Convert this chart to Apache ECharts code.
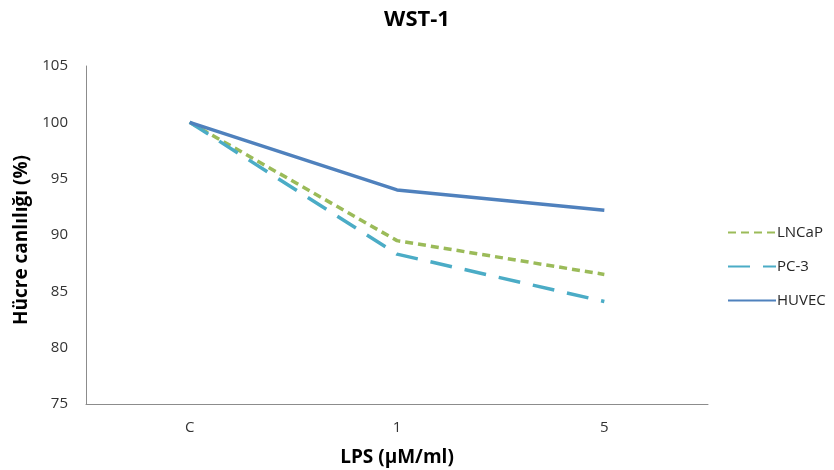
<!DOCTYPE html>
<html>
<head>
<meta charset="utf-8">
<script src="https://cdn.jsdelivr.net/npm/echarts@6/dist/echarts.min.js"></script>
<style>html,body{margin:0;padding:0;background:#fff}#c{width:834px;height:470px}</style>
</head>
<body>
<div id="c"></div>
<script>
const categories = ['C', '1', '5'];
const lncap = [100, 89.5, 86.5];
const pc3 = [100, 88.3, 84.1];
const huvec = [100, 94.0, 92.2];
const yTicks = [75, 80, 85, 90, 95, 100, 105];

const font = 'Open Sans, Liberation Sans, sans-serif';
const chart = echarts.init(document.getElementById('c'), null, {renderer: 'canvas'});
chart.setOption({
  animation: false,
  backgroundColor: '#fff',
  title: {
    text: 'WST-1', left: 'center', top: 4,
    textStyle: {fontFamily: font, fontSize: 22, fontWeight: 'bold', color: '#000'}
  },
  grid: {left: 86, right: 126, top: 66, bottom: 66, outerBoundsMode: 'none', containLabel: false},
  legend: {
    orient: 'vertical', left: 722, top: 220, itemGap: 19,
    itemWidth: 48, itemHeight: 15,
    itemStyle: {opacity: 0},
    textStyle: {fontFamily: font, fontSize: 15, color: '#262626', padding: [0,0,0,-4]},
    data: ['LNCaP', 'PC-3', 'HUVEC']
  },
  xAxis: {
    type: 'category', data: categories, boundaryGap: true,
    axisLine: {lineStyle: {color: '#8c8c8c', width: 1}},
    axisTick: {show: false},
    axisLabel: {fontFamily: font, fontSize: 15, color: '#333', margin: 16},
    name: 'LPS (µM/ml)', nameLocation: 'middle', nameGap: 44,
    nameTextStyle: {fontFamily: font, fontSize: 19, fontWeight: 'bold', color: '#000'}
  },
  yAxis: {
    type: 'value', min: yTicks[0], max: yTicks[yTicks.length - 1], interval: 5,
    axisLine: {show: true, lineStyle: {color: '#8c8c8c', width: 1}},
    axisTick: {show: false},
    splitLine: {show: false},
    axisLabel: {fontFamily: font, fontSize: 15, color: '#333', margin: 18},
    name: 'Hücre canlılığı (%)', nameLocation: 'middle', nameGap: 50,
    nameTextStyle: {fontFamily: font, fontSize: 19, fontWeight: 'bold', color: '#000', padding: [0, 10, 0, 0]}
  },
  series: [
    {name: 'LNCaP', type: 'line', data: lncap, symbol: 'none',
     lineStyle: {color: '#9bbb59', width: 3.5, type: [8, 5]}, itemStyle: {color: '#9bbb59'}},
    {name: 'PC-3', type: 'line', data: pc3, symbol: 'none',
     lineStyle: {color: '#4bacc6', width: 3.5, type: [22, 13]}, itemStyle: {color: '#4bacc6'}},
    {name: 'HUVEC', type: 'line', data: huvec, symbol: 'none',
     lineStyle: {color: '#4f81bd', width: 3.5}, itemStyle: {color: '#4f81bd'}}
  ]
});
</script>
</body>
</html>
